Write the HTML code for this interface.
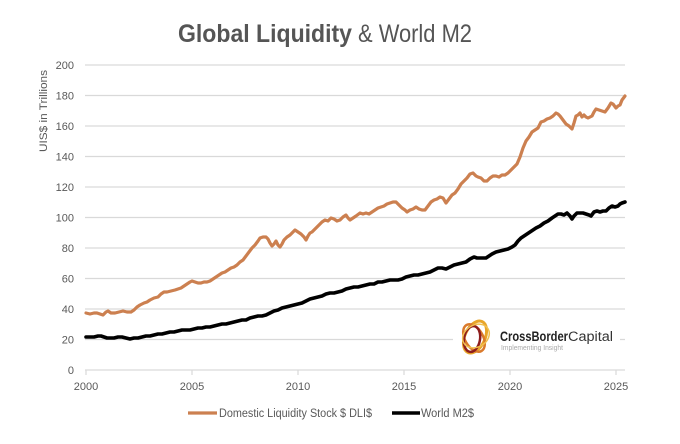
<!DOCTYPE html>
<html><head><meta charset="utf-8"><style>
html,body{margin:0;padding:0;background:#fff;}
svg{display:block;font-family:"Liberation Sans",sans-serif;}
</style></head><body>
<svg width="680" height="444" viewBox="0 0 680 444" xmlns="http://www.w3.org/2000/svg">
<rect width="680" height="444" fill="#fff"/>
<!-- title -->
<text x="178" y="42" font-size="25" font-weight="bold" fill="#555" textLength="174" lengthAdjust="spacingAndGlyphs">Global Liquidity</text>
<text x="358" y="42" font-size="25" fill="#555" textLength="114" lengthAdjust="spacingAndGlyphs">&amp; World M2</text>
<!-- gridlines -->
<g stroke="#d9d9d9" stroke-width="1.2">
<line x1="85" y1="65" x2="625" y2="65"/>
<line x1="85" y1="95.5" x2="625" y2="95.5"/>
<line x1="85" y1="126" x2="625" y2="126"/>
<line x1="85" y1="156.5" x2="625" y2="156.5"/>
<line x1="85" y1="187" x2="625" y2="187"/>
<line x1="85" y1="217.5" x2="625" y2="217.5"/>
<line x1="85" y1="248" x2="625" y2="248"/>
<line x1="85" y1="278.5" x2="625" y2="278.5"/>
<line x1="85" y1="309" x2="625" y2="309"/>
<line x1="85" y1="339.5" x2="625" y2="339.5"/>
<line x1="85" y1="370" x2="625" y2="370"/>
<line x1="86" y1="370" x2="86" y2="375"/>
<line x1="192" y1="370" x2="192" y2="375"/>
<line x1="298" y1="370" x2="298" y2="375"/>
<line x1="404" y1="370" x2="404" y2="375"/>
<line x1="510" y1="370" x2="510" y2="375"/>
<line x1="616" y1="370" x2="616" y2="375"/>
</g>
<!-- y labels -->
<g font-size="11" fill="#595959" text-anchor="end">
<text x="74" y="69">200</text>
<text x="74" y="99.5">180</text>
<text x="74" y="130">160</text>
<text x="74" y="160.5">140</text>
<text x="74" y="191">120</text>
<text x="74" y="221.5">100</text>
<text x="74" y="252">80</text>
<text x="74" y="282.5">60</text>
<text x="74" y="313">40</text>
<text x="74" y="343.5">20</text>
<text x="74" y="374">0</text>
</g>
<!-- x labels -->
<g font-size="11" fill="#595959" text-anchor="middle">
<text x="86" y="390">2000</text>
<text x="192" y="390">2005</text>
<text x="298" y="390">2010</text>
<text x="404" y="390">2015</text>
<text x="510" y="390">2020</text>
<text x="616" y="390">2025</text>
</g>
<!-- y axis title -->
<text transform="translate(47,111) rotate(-90)" font-size="11" fill="#595959" text-anchor="middle" textLength="82" lengthAdjust="spacingAndGlyphs">UIS$ in Trillions</text>
<!-- logo background -->
<rect x="453" y="312" width="167" height="52" fill="#fff"/>
<!-- series -->
<polyline fill="none" stroke="#CC8050" stroke-width="3.2" stroke-linejoin="round" stroke-linecap="round" points="86,313 90,314 94,313 97,313 100,314 103,315 106,312 108,311 111,313 115,313 119,312 123,311 127,312 131,312 134,310 137,307 140,305 144,303 147,302 150,300 154,298 158,297 161,294 164,292 167,292 171,291 175,290 178,289 181,288 184,286 187,284 190,282 192,281 195,282 198,283 201,283 204,282 207,282 210,281 213,279 216,277 219,275 222,273 225,272 228,270 231,268 234,267 237,265 240,262 243,260 246,256 249,252 252,248 255,245 258,241 260,238 263,237 266,237 268,239 270,243 272,246 274,244 276,241 278,245 280,247 282,244 284,240 287,237 290,235 293,232 295,230 298,232 301,234 304,237 306,240 308,236 310,233 312,232 314,230 316,228 319,225 322,222 325,220 328,221 331,218 334,219 337,221 340,220 343,217 346,215 348,218 350,220 353,218 356,216 360,213 363,214 366,213 369,214 372,212 375,210 378,208 381,207 384,206 387,204 390,203 393,202 396,202 399,205 402,208 405,210 407,212 410,210 413,209 416,207 419,209 422,210 425,210 428,206 431,202 434,200 437,199 440,197 443,198 446,203 449,199 452,195 455,193 458,189 461,184 464,181 467,178 470,174 473,173 476,176 478,177 481,178 484,181 487,181 490,178 493,176 496,176 499,177 502,175 505,175 508,173 511,170 514,167 517,164 520,157 523,148 526,141 529,137 532,132 535,130 538,128 541,122 544,121 547,119 550,118 553,116 556,113 558,114 560,116 563,120 566,124 569,126 572,129 574,123 576,116 578,115 580,113 582,117 584,115 586,117 588,118 590,117 592,116 594,112 596,109 599,110 602,111 605,112 608,108 611,103 613,104 616,108 618,106 620,105 622,100 625,96"/>
<polyline fill="none" stroke="#000" stroke-width="3.6" stroke-linejoin="round" stroke-linecap="round" points="86,337 90,337 94,337 98,336 101,336 104,337 107,338 110,338 114,338 118,337 122,337 126,338 130,339 134,338 138,338 142,337 146,336 150,336 154,335 158,334 162,334 166,333 170,332 174,332 178,331 182,330 186,330 190,330 194,329 198,328 202,328 206,327 210,327 214,326 218,325 222,324 226,324 230,323 234,322 238,321 242,320 246,320 250,318 254,317 258,316 262,316 266,315 270,313 274,311 278,310 282,308 286,307 290,306 294,305 298,304 302,303 306,301 310,299 314,298 318,297 322,296 326,294 330,293 334,293 338,292 342,291 346,289 350,288 354,287 358,287 362,286 366,285 370,284 374,284 378,282 382,282 386,281 390,280 394,280 398,280 402,279 406,277 410,276 414,275 418,275 422,274 426,273 430,272 434,270 438,268 442,268 446,269 450,267 454,265 458,264 462,263 466,262 470,259 474,257 477,258 480,258 483,258 486,258 489,256 492,254 496,252 500,251 504,250 508,249 512,247 515,245 518,241 521,238 524,236 527,234 530,232 533,230 536,228 540,226 544,223 548,221 552,218 555,216 558,214 561,214 564,215 567,213 570,216 572,219 574,216 577,213 580,213 583,213 586,214 589,215 591,216 594,212 597,211 600,212 603,211 606,211 609,208 612,206 615,207 618,206 620,204 622,203 625,202"/>
<!-- logo -->
<g fill="none">
<ellipse cx="475" cy="337" rx="10" ry="17" transform="rotate(25 475 337)" stroke="#E8A62A" stroke-width="3"/>
<ellipse cx="474" cy="338" rx="9" ry="15" transform="rotate(-30 474 338)" stroke="#DA7A2C" stroke-width="2.5"/>
<ellipse cx="472" cy="339" rx="8" ry="13" transform="rotate(10 472 339)" stroke="#8E1D1D" stroke-width="2.5"/>
<ellipse cx="476" cy="336" rx="11" ry="14" transform="rotate(60 476 336)" stroke="#F0C050" stroke-width="1.5"/>
</g>
<text x="500" y="341" font-size="13.5" font-weight="bold" fill="#222" textLength="68" lengthAdjust="spacingAndGlyphs">CrossBorder</text>
<text x="568" y="341" font-size="13.5" fill="#333" textLength="45" lengthAdjust="spacingAndGlyphs">Capital</text>
<text x="501" y="350" font-size="7" fill="#aaa" textLength="62" lengthAdjust="spacingAndGlyphs">Implementing Insight</text>
<!-- legend -->
<line x1="188" y1="413" x2="217" y2="413" stroke="#CC8050" stroke-width="3.2"/>
<text x="219" y="417" font-size="11.5" fill="#595959" textLength="153" lengthAdjust="spacingAndGlyphs">Domestic Liquidity Stock $ DLI$</text>
<line x1="392" y1="413" x2="420" y2="413" stroke="#000" stroke-width="3.6"/>
<text x="421" y="417" font-size="11.5" fill="#595959" textLength="53" lengthAdjust="spacingAndGlyphs">World M2$</text>
</svg>
</body></html>
